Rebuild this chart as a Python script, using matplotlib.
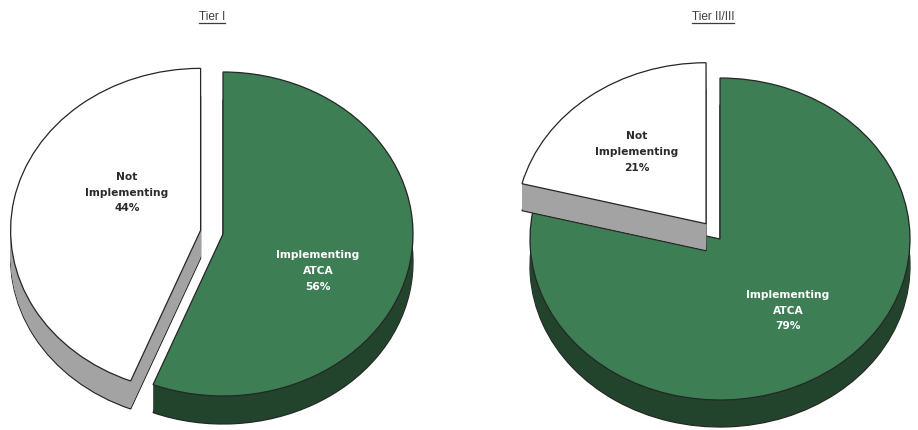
import matplotlib
matplotlib.use("Agg")
import matplotlib.pyplot as plt
from matplotlib.lines import Line2D
from matplotlib import font_manager

plt.rcParams['font.family'] = ['DejaVu Sans']

# ---- data ----
titles = ["Tier I", "Tier II/III"]
categories = ["Implementing\nATCA", "Not\nImplementing"]
tier1_values = [56, 44]
tier23_values = [79, 21]
explode_vals = [0, 0.12]

top_colors = ["#3d7e54", "#ffffff"]
side_colors = ["#22442d", "#a3a3a3"]
text_colors = ["white", "#2b2b2b"]

W, H = 918, 431
fig = plt.figure(figsize=(W / 100, H / 100), dpi=100)

# layout (pixels): center x, center y (from top), rx, ry, depth, axes x-range
layouts = [
    dict(cx=223, cy=235, rx=190, ry=162, depth=28, x0=0, x1=459, title_x=212,
         label_pos=[(0.50, -0.222), (-0.505, 0.26)]),
    dict(cx=720, cy=240, rx=190, ry=161, depth=27, x0=459, x1=918, title_x=713,
         label_pos=[(0.358, -0.44), (-0.437, 0.547)]),
]
all_values = [tier1_values, tier23_values]

available = {f.name for f in font_manager.fontManager.ttflist}
title_family = 'Liberation Sans Narrow' if 'Liberation Sans Narrow' in available else 'Liberation Sans'
title_stretch = 1.0 if title_family == 'Liberation Sans Narrow' else 0.82

top_px = 25
for values, L, title in zip(all_values, layouts, titles):
    ax = fig.add_axes([L['x0'] / W, 0, (L['x1'] - L['x0']) / W, (H - top_px) / H])
    depth = L['depth'] / L['ry']
    nlay = 30
    for k in range(nlay + 1):
        d = depth * (1 - k / nlay)
        is_top = (k == nlay)
        is_bottom = (k == 0)
        cols = top_colors if is_top else side_colors
        ew = 0.9 if (is_top or is_bottom) else 0
        wedges, _ = ax.pie(values, colors=cols, explode=explode_vals, startangle=90,
                           counterclock=False, center=(0, -d), radius=1.0,
                           wedgeprops=dict(edgecolor="#262626", linewidth=ew))
        for i, w in enumerate(wedges):
            w.set_zorder(1 + 2 * i + (1 if is_top else k / (nlay + 1)))
    # labels
    for i, (cat, v) in enumerate(zip(categories, values)):
        lx, ly = L['label_pos'][i]
        ax.text(lx, ly, f"{cat}\n{v}%", ha="center", va="center", fontsize=7.7,
                fontweight="bold", color=text_colors[i], linespacing=1.7, zorder=10)
    ax.set_aspect('auto')
    ax.set_xlim((L['x0'] - L['cx']) / L['rx'], (L['x1'] - L['cx']) / L['rx'])
    ax.set_ylim((L['cy'] - H) / L['ry'], (L['cy'] - top_px) / L['ry'])
    ax.axis('off')

    fig.text(L['title_x'] / W, 1 - 17 / H, title, ha="center", va="center",
             fontsize=8.5, color="#3c3c3c", family=title_family,
             fontstretch='condensed')

fig.canvas.draw()
renderer = fig.canvas.get_renderer()
for t in fig.texts:
    bb = t.get_window_extent(renderer)
    y = (bb.y0 - 0.5) / H
    fig.add_artist(Line2D([bb.x0 / W, bb.x1 / W], [y, y], color="#3c3c3c", linewidth=0.9))

fig.savefig("out.png", dpi=100, facecolor="white")
